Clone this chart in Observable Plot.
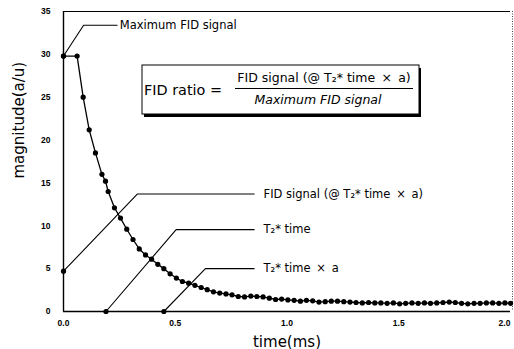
<!DOCTYPE html>
<html><head><meta charset="utf-8">
<script src="https://cdn.jsdelivr.net/npm/d3@7"></script>
<script src="https://cdn.jsdelivr.net/npm/@observablehq/plot@0.6"></script>
<style>
body{margin:0;background:#fff;}
#wrap{width:514px;height:349px;overflow:hidden;}
</style></head><body><div id="wrap"></div>
<script>
// decay curve (time in ms, magnitude a/u)
const timeMs = [0, 0.061, 0.088, 0.115, 0.143, 0.172, 0.188, 0.2, 0.228, 0.255, 0.283, 0.311, 0.339, 0.367, 0.394, 0.422, 0.449, 0.477, 0.505, 0.532, 0.56, 0.588, 0.616, 0.643, 0.671, 0.699, 0.727, 0.754, 0.782, 0.81, 0.838, 0.865, 0.893, 0.921, 0.949, 0.976, 1.004, 1.032, 1.06, 1.087, 1.115, 1.143, 1.171, 1.198, 1.226, 1.254, 1.282, 1.309, 1.337, 1.365, 1.393, 1.42, 1.448, 1.476, 1.504, 1.531, 1.559, 1.587, 1.615, 1.642, 1.67, 1.698, 1.726, 1.753, 1.781, 1.809, 1.837, 1.864, 1.892, 1.92, 1.948, 1.975, 2.0];
const magnitude = [29.8, 29.8, 25.0, 21.2, 18.5, 16.0, 15.2, 14.0, 12.1, 10.9, 9.6, 8.4, 7.3, 6.6, 6.1, 5.5, 5.0, 4.4, 3.9, 3.5, 3.3, 3.05, 2.8, 2.55, 2.3, 2.15, 2.05, 1.95, 1.75, 1.7, 1.8, 1.75, 1.7, 1.55, 1.4, 1.45, 1.35, 1.3, 1.2, 1.3, 1.25, 1.1, 1.15, 1.2, 1.2, 1.15, 1.1, 1.05, 1.0, 1.05, 1.0, 1.0, 0.95, 1.0, 0.9, 0.95, 1.0, 0.95, 1.0, 0.95, 1.0, 1.05, 1.1, 1.05, 0.95, 0.9, 0.95, 0.95, 1.0, 1.0, 0.95, 1.0, 0.95];

// axis ticks
const yTicks = [0, 5, 10, 15, 20, 25, 30, 35];
const xTicks = [0, 0.5, 1, 1.5, 2];
const xTickLabels = ["0.0", "0.5", "1.0", "1.5", "2.0"];

// call-out annotations
const annoLabels = ["Maximum FID signal", "FID signal (@ T\u2082* time\u2002\u00d7\u2002a)", "T\u2082* time", "T\u2082* time\u2002\u00d7\u2002a"];
const annoTipX = [0, 0, 0.19, 0.449];
const annoTipY = [29.8, 4.7, 0, 0];
const annoElbowX = [0.09, 0.33, 0.504, 0.635];
const annoElbowY = [33.4, 13.7, 9.55, 5.0];
const annoEndX = [0.24, 0.853, 0.853, 0.853];
const annoLabelX = [0.252, 0.895, 0.895, 0.895];

// ratio formula box
const ratioLeft = "FID ratio =";
const ratioNumerator = "FID signal (@ T\u2082* time\u2002\u00d7\u2002a)";
const ratioDenominator = "Maximum FID signal";

const curve = timeMs.map((t, i) => ({t, m: magnitude[i]}));
const leaders = annoLabels.flatMap((lab, i) => [
  {k: i, x: annoTipX[i], y: annoTipY[i]},
  {k: i, x: annoElbowX[i], y: annoElbowY[i]},
  {k: i, x: annoEndX[i], y: annoElbowY[i]}
]);
const tips = annoLabels.map((lab, i) => ({x: annoTipX[i], y: annoTipY[i]}));
const labels = annoLabels.map((lab, i) => ({lab, x: annoLabelX[i], y: annoElbowY[i]}));

const F = "DejaVu Sans";
const tickStyle = {tickSize: 0, fontSize: 8.5, fontWeight: "bold", fontFamily: "Liberation Sans", label: null};
const fmtX = d => xTickLabels[xTicks.indexOf(d)];
const chart = Plot.plot({
  width: 514, height: 349,
  marginLeft: 63, marginRight: 4, marginTop: 11, marginBottom: 38,
  style: {background: "#fff", fontFamily: F},
  x: {domain: [0, 2], label: null},
  y: {domain: [0, 35], label: null},
  marks: [
    Plot.ruleY([35], {stroke: "#000", strokeWidth: 1}),
    Plot.ruleX([2], {stroke: "#444", strokeDasharray: "1,1.5", dx: 2}),
    Plot.axisY(yTicks, {...tickStyle, tickPadding: 13}),
    Plot.axisX(xTicks.slice(0, -1), {...tickStyle, tickPadding: 8, tickFormat: fmtX}),
    Plot.axisX(xTicks.slice(-1), {...tickStyle, tickPadding: 8, tickFormat: fmtX, dx: -6}),
    Plot.line(leaders, {x: "x", y: "y", z: "k", stroke: "#000", strokeWidth: 1.1}),
    Plot.dot(tips, {x: "x", y: "y", r: 2.6, fill: "#000"}),
    Plot.line(curve, {x: "t", y: "m", stroke: "#000", strokeWidth: 1.3}),
    Plot.dot(curve, {x: "t", y: "m", r: 2.6, fill: "#000"}),
    Plot.ruleX([0], {stroke: "#000", strokeWidth: 1.4}),
    Plot.ruleY([0], {stroke: "#000", strokeWidth: 1.4}),
    Plot.text(labels, {x: "x", y: "y", text: "lab", textAnchor: "start", fontSize: 11.5, fontFamily: F, fill: "#000"}),
    Plot.text(["time(ms)"], {frameAnchor: "bottom", lineAnchor: "bottom", dy: 35, fontSize: 15, fontFamily: F, fill: "#000"}),
    Plot.text(["magnitude(a/u)"], {frameAnchor: "left", rotate: -90, dx: -44, dy: 17, fontSize: 15, fontFamily: F, fill: "#000"})
  ]
});

// formula box overlay
const svg = d3.select(chart);
const g = svg.append("g").attr("font-family", F).attr("fill", "#000");
g.append("rect").attr("x", 144).attr("y", 68).attr("width", 277).attr("height", 49).attr("fill", "#000");
g.append("rect").attr("x", 142).attr("y", 65).attr("width", 277).attr("height", 49).attr("fill", "#fff").attr("stroke", "#000").attr("stroke-width", 1);
g.append("text").attr("x", 144).attr("y", 95).attr("text-anchor", "start").attr("font-size", 14.4).text(ratioLeft);
g.append("text").attr("x", 324).attr("y", 82).attr("text-anchor", "middle").attr("font-size", 12.5).text(ratioNumerator);
g.append("line").attr("x1", 235).attr("x2", 413).attr("y1", 88.5).attr("y2", 88.5).attr("stroke", "#000").attr("stroke-width", 1);
g.append("text").attr("x", 318).attr("y", 104).attr("text-anchor", "middle").attr("font-size", 12.5).attr("font-style", "italic").text(ratioDenominator);

document.getElementById("wrap").appendChild(chart);
</script>
</body></html>
